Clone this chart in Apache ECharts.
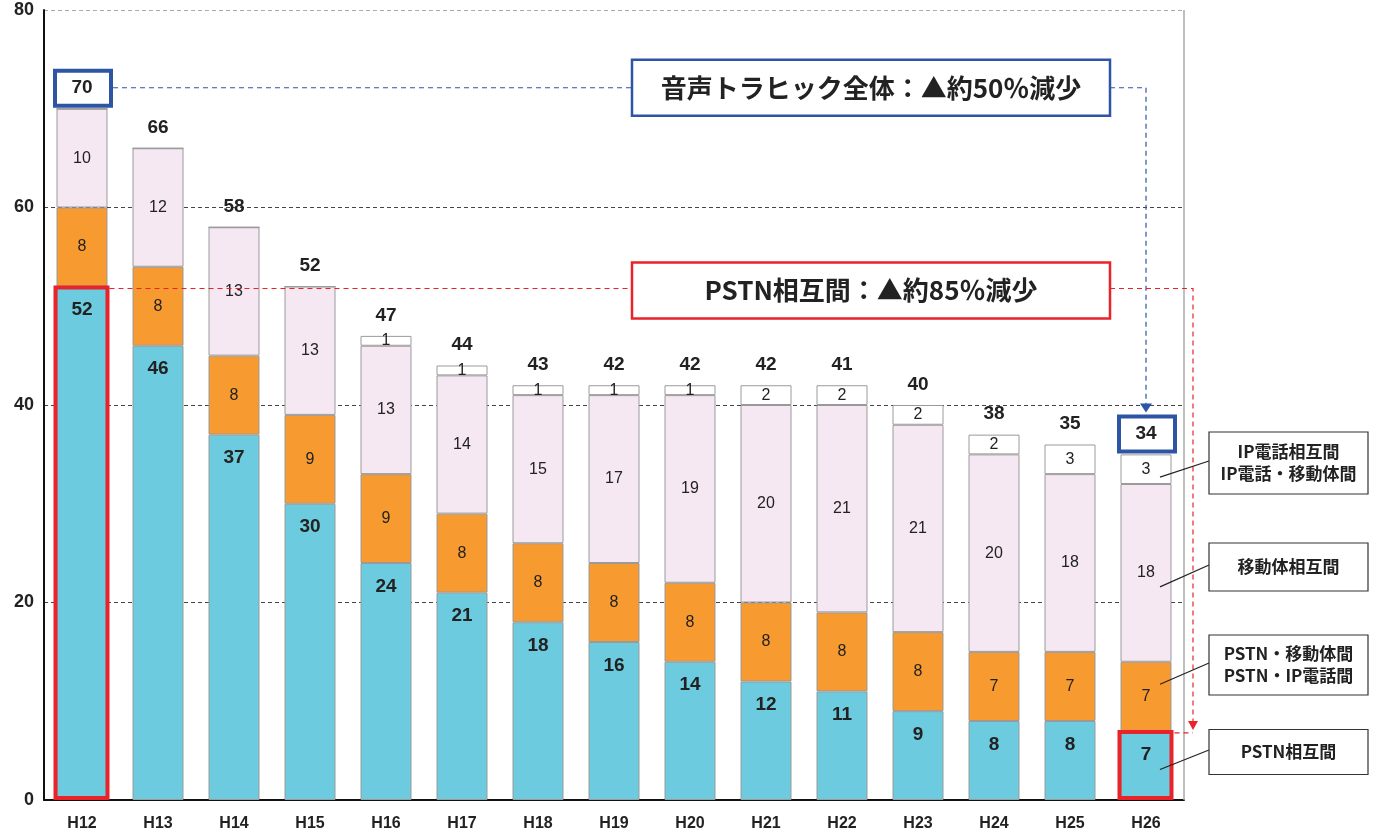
<!DOCTYPE html>
<html>
<head>
<meta charset="utf-8">
<script src="https://cdn.jsdelivr.net/npm/echarts@6/dist/echarts.min.js"></script>
<style>
  html, body { margin: 0; padding: 0; background: #fff; }
  #chart { width: 1376px; height: 834px; }
</style>
</head>
<body>
<div id="chart"></div>
<script>
// 年度別 音声トラヒック（通信種別の内訳）
const categories = ['H12','H13','H14','H15','H16','H17','H18','H19','H20','H21','H22','H23','H24','H25','H26'];
const pstnMutual   = [52, 46, 37, 30, 24, 21, 18, 16, 14, 12, 11, 9, 8, 8, 7];   // PSTN相互間
const pstnMobile   = [8, 8, 8, 9, 9, 8, 8, 8, 8, 8, 8, 8, 7, 7, 7];             // PSTN・移動体間 / PSTN・IP電話間
const mobileMutual = [10, 12, 13, 13, 13, 14, 15, 17, 19, 20, 21, 21, 20, 18, 18]; // 移動体相互間
const ipCalls      = [0, 0, 0, 0, 1, 1, 1, 1, 1, 2, 2, 2, 2, 3, 3];             // IP電話相互間 / IP電話・移動体間
const totals       = [70, 66, 58, 52, 47, 44, 43, 42, 42, 42, 41, 40, 38, 35, 34];
const yTicks = { min: 0, max: 80, interval: 20 };

const FONT = 'Liberation Sans, Arial, sans-serif';
const JFONT = '"Noto Sans CJK JP", sans-serif';
const BLUE = '#2E54A4';
const RED = '#E8232A';

const chart = echarts.init(document.getElementById('chart'), null, { renderer: 'canvas' });

const segBorder = { borderColor: '#9a9a9a', borderWidth: 1 };
const segLabel = (extra) => Object.assign({
  show: true, position: 'inside', color: '#222', fontFamily: FONT, fontSize: 16
}, extra || {});

chart.setOption({
  animation: false,
  grid: { left: 44, right: 192, top: 10, bottom: 34, containLabel: false },
  xAxis: {
    type: 'category',
    data: categories,
    axisLine: { lineStyle: { color: '#111', width: 2 } },
    axisTick: { show: false },
    axisLabel: { color: '#222', fontFamily: FONT, fontWeight: 'bold', fontSize: 16, margin: 16 }
  },
  yAxis: {
    type: 'value',
    min: yTicks.min, max: yTicks.max, interval: yTicks.interval,
    axisLine: { show: true, lineStyle: { color: '#111', width: 2 } },
    axisTick: { show: false },
    axisLabel: { color: '#222', fontFamily: FONT, fontWeight: 'bold', fontSize: 18, margin: 10 },
    splitLine: { show: true, lineStyle: { color: ['#444', '#444', '#444', '#444', '#aaa'], type: [4, 3], width: 1 } }
  },
  series: [
    {
      name: 'PSTN相互間', type: 'bar', stack: 'v', barWidth: 51, data: pstnMutual,
      itemStyle: Object.assign({ color: '#6CCBDE' }, segBorder),
      label: segLabel({ position: 'insideTop', distance: 14, fontWeight: 'bold', fontSize: 19 })
    },
    {
      name: 'PSTN・移動体間', type: 'bar', stack: 'v', barWidth: 51, data: pstnMobile,
      itemStyle: Object.assign({ color: '#F79A30' }, segBorder),
      label: segLabel()
    },
    {
      name: '移動体相互間', type: 'bar', stack: 'v', barWidth: 51, data: mobileMutual,
      itemStyle: Object.assign({ color: '#F5E8F3' }, segBorder),
      label: segLabel()
    },
    {
      name: 'IP電話', type: 'bar', stack: 'v', barWidth: 51, data: ipCalls,
      itemStyle: Object.assign({ color: '#ffffff' }, segBorder),
      label: segLabel({ formatter: p => (p.value ? String(p.value) : '') })
    },
    {
      name: '合計', type: 'bar', stack: 'v', barWidth: 51, data: totals.map(() => 0),
      itemStyle: { color: 'rgba(0,0,0,0)', borderWidth: 0 },
      label: {
        show: true, position: 'top', distance: 11, color: '#222',
        fontFamily: FONT, fontWeight: 'bold', fontSize: 19,
        formatter: p => String(totals[p.dataIndex])
      }
    }
  ]
});

// ---- annotations positioned from the axes ----
const px = (i, v) => chart.convertToPixel({ gridIndex: 0 }, [i, v]);
const last = categories.length - 1;
const stackTop = i => pstnMutual[i] + pstnMobile[i] + mobileMutual[i] + ipCalls[i];
const halfBar = 51 / 2;

const [x0] = px(0, 0);
const [xN] = px(last, 0);
const yBase = px(0, 0)[1];
const yMax = px(0, yTicks.max)[1];
const plotRect = chart.getModel().getComponent('grid', 0).coordinateSystem.getRect();
const rightEdge = plotRect.x + plotRect.width;

const g = [];

// right frame of the plot area
g.push({ type: 'line', shape: { x1: rightEdge, y1: yMax, x2: rightEdge, y2: yBase },
  style: { stroke: '#aaa', lineWidth: 1.5 }, z: 5 });

// boxed totals for first and last year
function totalBox(i) {
  const [cx, ty] = px(i, stackTop(i));
  const cy = ty - 21;
  g.push({ type: 'rect', shape: { x: cx - 27, y: cy - 17, width: 56, height: 35 },
    style: { fill: 'rgba(0,0,0,0)', stroke: BLUE, lineWidth: 4 }, z: 20 });
  return [cx, cy];
}
const [b0x, b0y] = totalBox(0);
const [bNx, bNy] = totalBox(last);

// red frames on PSTN相互間 segments
function redFrame(i) {
  const [cx, ty] = px(i, pstnMutual[i]);
  g.push({ type: 'rect', shape: { x: cx - halfBar - 1, y: ty + 1, width: 51 + 1, height: yBase - ty - 3 },
    style: { fill: 'rgba(0,0,0,0)', stroke: RED, lineWidth: 4 }, z: 20 });
}
redFrame(0);
redFrame(last);

// text boxes
const boxL = 632, boxR = 1110;
function headline(text, y, h, color) {
  g.push({ type: 'rect', shape: { x: boxL, y: y - h / 2, width: boxR - boxL, height: h },
    style: { fill: '#fff', stroke: color, lineWidth: 2.5 }, z: 30 });
  g.push({ type: 'text', x: (boxL + boxR) / 2, y: y,
    style: { text: text, fill: '#222', font: 'bold 26px ' + JFONT, textAlign: 'center', textVerticalAlign: 'middle' }, z: 31 });
}

// blue dashed connector: total 70 → total 34
const blueDash = { stroke: BLUE, lineWidth: 1.2, lineDash: [5, 4], fill: null };
const blueTurnX = bNx;
g.push({ type: 'polyline', shape: { points: [[b0x + 31, b0y], [boxL, b0y]] }, style: blueDash, z: 15 });
g.push({ type: 'polyline', shape: { points: [[boxR, b0y], [blueTurnX, b0y], [blueTurnX, bNy - 28]] }, style: blueDash, z: 15 });
g.push({ type: 'polygon', shape: { points: [[blueTurnX - 6, bNy - 30], [blueTurnX + 6, bNy - 30], [blueTurnX, bNy - 21]] },
  style: { fill: BLUE }, z: 15 });
headline('音声トラヒック全体：▲約50％減少', b0y, 56, BLUE);

// red dashed connector: PSTN相互間 52 → 7
const redDash = { stroke: RED, lineWidth: 1.2, lineDash: [5, 4], fill: null };
const y52 = px(0, pstnMutual[0])[1];
const y7 = px(last, pstnMutual[last])[1];
const redTurnX = rightEdge + 9;
g.push({ type: 'polyline', shape: { points: [[x0 + halfBar + 2, y52 + 2], [boxL, y52 + 2]] }, style: redDash, z: 15 });
g.push({ type: 'polyline', shape: { points: [[boxR, y52 + 2], [redTurnX, y52 + 2], [redTurnX, y7 - 8]] }, style: redDash, z: 15 });
g.push({ type: 'polyline', shape: { points: [[xN + halfBar + 3, y7 + 2], [redTurnX, y7 + 2]] }, style: redDash, z: 15 });
g.push({ type: 'polygon', shape: { points: [[redTurnX - 5, y7 - 10], [redTurnX + 5, y7 - 10], [redTurnX, y7 - 1]] },
  style: { fill: RED }, z: 15 });
headline('PSTN相互間：▲約85％減少', y52 + 4, 56, RED);

// series callouts beside the last bar
const calloutX = 1209, calloutW = 159;
function callout(lines, cy, h, segMid, dy) {
  const [sx, sy] = px(last, segMid);
  g.push({ type: 'rect', shape: { x: calloutX, y: cy - h / 2, width: calloutW, height: h },
    style: { fill: '#fff', stroke: '#333', lineWidth: 1.2 }, z: 30 });
  g.push({ type: 'text', x: calloutX + calloutW / 2, y: cy,
    style: { text: lines.join('\n'), fill: '#222', font: 'bold 17px ' + JFONT, lineHeight: 22,
      textAlign: 'center', textVerticalAlign: 'middle' }, z: 31 });
  g.push({ type: 'line', shape: { x1: sx + 14, y1: sy + dy, x2: calloutX, y2: cy - 2 },
    style: { stroke: '#222', lineWidth: 1.2 }, z: 25 });
}
const s0 = pstnMutual[last], s1 = s0 + pstnMobile[last], s2 = s1 + mobileMutual[last], s3 = s2 + ipCalls[last];
callout(['IP電話相互間', 'IP電話・移動体間'], 463, 62, (s2 + s3) / 2, 8);
callout(['移動体相互間'], 567, 48, (s1 + s2) / 2, 14);
callout(['PSTN・移動体間', 'PSTN・IP電話間'], 665, 60, (s0 + s1) / 2, -12);
callout(['PSTN相互間'], 752, 45, s0 / 2, 4);

chart.setOption({ graphic: g });
</script>
</body>
</html>
